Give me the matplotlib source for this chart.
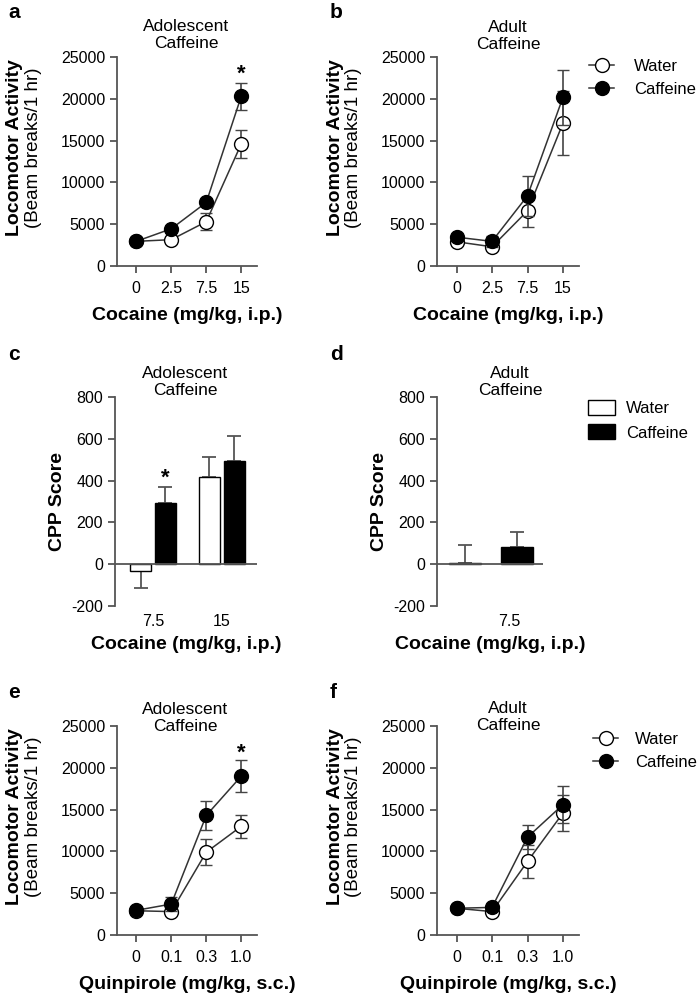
import numpy as np
import matplotlib.pyplot as plt
from matplotlib.patches import Patch

plt.rcParams['font.family'] = ['Liberation Sans', 'DejaVu Sans']
plt.rcParams['axes.unicode_minus'] = False

# cocaine locomotor (a: adolescent, b: adult)
coc_doses = ['0', '2.5', '7.5', '15']
a_water = [2950, 3150, 5300, 14600]
a_water_err = [200, 250, 1050, 1650]
a_caff = [2950, 4450, 7600, 20300]
a_caff_err = [200, 300, 400, 1600]
b_water = [2900, 2300, 6600, 17100]
b_water_err = [250, 300, 1900, 3850]
b_caff = [3450, 2950, 8400, 20200]
b_caff_err = [250, 650, 2400, 3300]

# CPP scores (c: adolescent, d: adult)
c_doses = ['7.5', '15']
c_water = [-32, 419]
c_water_err = [82, 96]
c_caff = [294, 496]
c_caff_err = [77, 118]
d_doses = ['7.5']
d_water = [6]
d_water_err = [84]
d_caff = [80]
d_caff_err = [72]

# quinpirole locomotor (e: adolescent, f: adult)
qui_doses = ['0', '0.1', '0.3', '1.0']
e_water = [2900, 2800, 9900, 13000]
e_water_err = [200, 250, 1550, 1350]
e_caff = [2950, 3700, 14300, 19000]
e_caff_err = [200, 800, 1750, 1900]
f_water = [3200, 2800, 8800, 14600]
f_water_err = [200, 250, 1950, 2200]
f_caff = [3200, 3300, 11700, 15600]
f_caff_err = [200, 250, 1400, 2200]

W, H = 700, 996
fig = plt.figure(figsize=(W / 100, H / 100), dpi=100)


def box(l, r, t, b):
    return [l / W, 1 - b / H, (r - l) / W, (b - t) / H]


def ftext(x, y, s, **kw):
    return fig.text(x / W, 1 - y / H, s, **kw)


SP = '#555555'
TICK = 11.5


def style(ax):
    for s in ['top', 'right']:
        ax.spines[s].set_visible(False)
    for s in ['left', 'bottom']:
        ax.spines[s].set_color(SP)
        ax.spines[s].set_linewidth(1.3)
    ax.tick_params(colors=SP, labelcolor='black', labelsize=TICK, width=1.3, length=5)
    ax.tick_params(axis='x', pad=6)


def line_panel(ax, doses, water, werr, caff, cerr, xlabel, star=None):
    x = np.arange(len(doses))
    ax.errorbar(x, water, yerr=werr, color='#333333', lw=1.1, ecolor='#444444',
                elinewidth=1.2, capsize=4.5, capthick=1.2, marker='o', ms=10,
                mfc='white', mec='black', mew=1.0, clip_on=False, zorder=3, label='Water')
    ax.errorbar(x, caff, yerr=cerr, color='#333333', lw=1.1, ecolor='#444444',
                elinewidth=1.2, capsize=4.5, capthick=1.2, marker='o', ms=10,
                mfc='black', mec='black', mew=1.0, clip_on=False, zorder=4, label='Caffeine')
    ax.set_ylim(0, 25000)
    ax.set_yticks([0, 5000, 10000, 15000, 20000, 25000])
    ax.set_xlim(-0.55, 3.45)
    ax.set_xticks(x)
    ax.set_xticklabels(doses)
    style(ax)
    ax.set_xlabel(xlabel, fontsize=14, fontweight='bold', labelpad=8)
    if star is not None:
        ax.text(star[0], star[1], '*', ha='center', va='center', fontsize=16,
                fontweight='bold')


def bar_panel(ax, doses, pos, off, width, water, werr, caff, cerr, tickpos, xlim):
    pos = np.array(pos, dtype=float)
    ax.bar(pos - off, water, width, color='white', edgecolor='black', lw=1.0, zorder=3)
    ax.bar(pos + off, caff, width, color='black', edgecolor='black', lw=1.0, zorder=3)
    w = np.array(water)
    low = np.where(w < 0, werr, 0)
    up = np.where(w < 0, 0, werr)
    ax.errorbar(pos - off, water, yerr=[low, up], fmt='none', ecolor='#555555',
                elinewidth=1.3, capsize=5, capthick=1.3, zorder=2)
    ax.errorbar(pos + off, caff, yerr=[np.zeros(len(caff)), cerr], fmt='none',
                ecolor='#555555', elinewidth=1.3, capsize=5, capthick=1.3, zorder=2)
    ax.axhline(0, color=SP, lw=1.3, zorder=4)
    ax.set_ylim(-200, 800)
    ax.set_yticks([-200, 0, 200, 400, 600, 800])
    ax.set_xlim(*xlim)
    ax.set_xticks(tickpos)
    ax.set_xticklabels(doses)
    style(ax)
    ax.spines['bottom'].set_visible(False)
    ax.tick_params(axis='x', length=0, pad=6)
    ax.set_ylabel('CPP Score', fontsize=14, fontweight='bold', labelpad=4)
    ax.set_xlabel('Cocaine (mg/kg, i.p.)', fontsize=14, fontweight='bold', labelpad=5)


ax_a = fig.add_axes(box(117, 257, 57, 266))
line_panel(ax_a, coc_doses, a_water, a_water_err, a_caff, a_caff_err,
           'Cocaine (mg/kg, i.p.)', star=(3, 22900))
ax_b = fig.add_axes(box(437, 579, 57, 266))
line_panel(ax_b, coc_doses, b_water, b_water_err, b_caff, b_caff_err,
           'Cocaine (mg/kg, i.p.)')
ax_e = fig.add_axes(box(117, 257, 726, 935))
line_panel(ax_e, qui_doses, e_water, e_water_err, e_caff, e_caff_err,
           'Quinpirole (mg/kg, s.c.)', star=(3, 21800))
ax_f = fig.add_axes(box(437, 579, 726, 935))
line_panel(ax_f, qui_doses, f_water, f_water_err, f_caff, f_caff_err,
           'Quinpirole (mg/kg, s.c.)')

ax_c = fig.add_axes(box(115, 257, 397, 606))
bar_panel(ax_c, c_doses, [0, 1], 0.18, 0.30, c_water, c_water_err, c_caff, c_caff_err,
          [0, 1], (-0.55, 1.51))
ax_c.text(0.18, 410, '*', ha='center', va='center', fontsize=16, fontweight='bold')
ax_d = fig.add_axes(box(437, 543, 397, 606))
bar_panel(ax_d, d_doses, [0], 0.25, 0.30, d_water, d_water_err, d_caff, d_caff_err,
          [0.18], (-0.52, 0.50))

# y labels of the locomotor panels
for x0, yc in [(15, 148), (335, 148), (15, 817), (335, 817)]:
    ftext(x0, yc, 'Locomotor Activity', rotation=90, ha='center', va='center',
          fontsize=14, fontweight='bold')
    ftext(x0 + 19, yc, '(Beam breaks/1 hr)', rotation=90, ha='center', va='center',
          fontsize=13.5)

# panel titles
for x0, yc, s in [(186, 35, 'Adolescent\nCaffeine'), (508, 36, 'Adult\nCaffeine'),
                  (185, 382, 'Adolescent\nCaffeine'), (510, 382, 'Adult\nCaffeine'),
                  (185, 718, 'Adolescent\nCaffeine'), (508, 717, 'Adult\nCaffeine')]:
    ftext(x0, yc, s, ha='center', va='center', fontsize=12.5, linespacing=1.15)

# legends
h, l = ax_b.get_legend_handles_labels()
ax_b.legend([x[0] for x in h], l, loc='upper left', bbox_to_anchor=(574 / W, 1 - 44 / H),
            bbox_transform=fig.transFigure, frameon=False, fontsize=12,
            handlelength=1.5, handletextpad=1.2, labelspacing=0.45)
h, l = ax_f.get_legend_handles_labels()
ax_f.legend([x[0] for x in h], l, loc='upper left', bbox_to_anchor=(578 / W, 1 - 717 / H),
            bbox_transform=fig.transFigure, frameon=False, fontsize=12,
            handlelength=1.5, handletextpad=1.0, labelspacing=0.5)
patches = [Patch(facecolor='white', edgecolor='black', lw=1.0),
           Patch(facecolor='black', edgecolor='black', lw=1.0)]
ax_d.legend(patches, ['Water', 'Caffeine'], loc='upper left',
            bbox_to_anchor=(573 / W, 1 - 385 / H),
            bbox_transform=fig.transFigure, frameon=False, fontsize=12,
            handlelength=1.6, handleheight=1.0, handletextpad=0.7, labelspacing=0.5)

# panel letters
for letter, x, y in [('a', 8, 12), ('b', 330, 12), ('c', 8, 355), ('d', 330, 355),
                     ('e', 8, 692), ('f', 330, 692)]:
    ftext(x, y, letter, fontsize=15, fontweight='bold', va='center')

fig.savefig('out.png', dpi=100)
